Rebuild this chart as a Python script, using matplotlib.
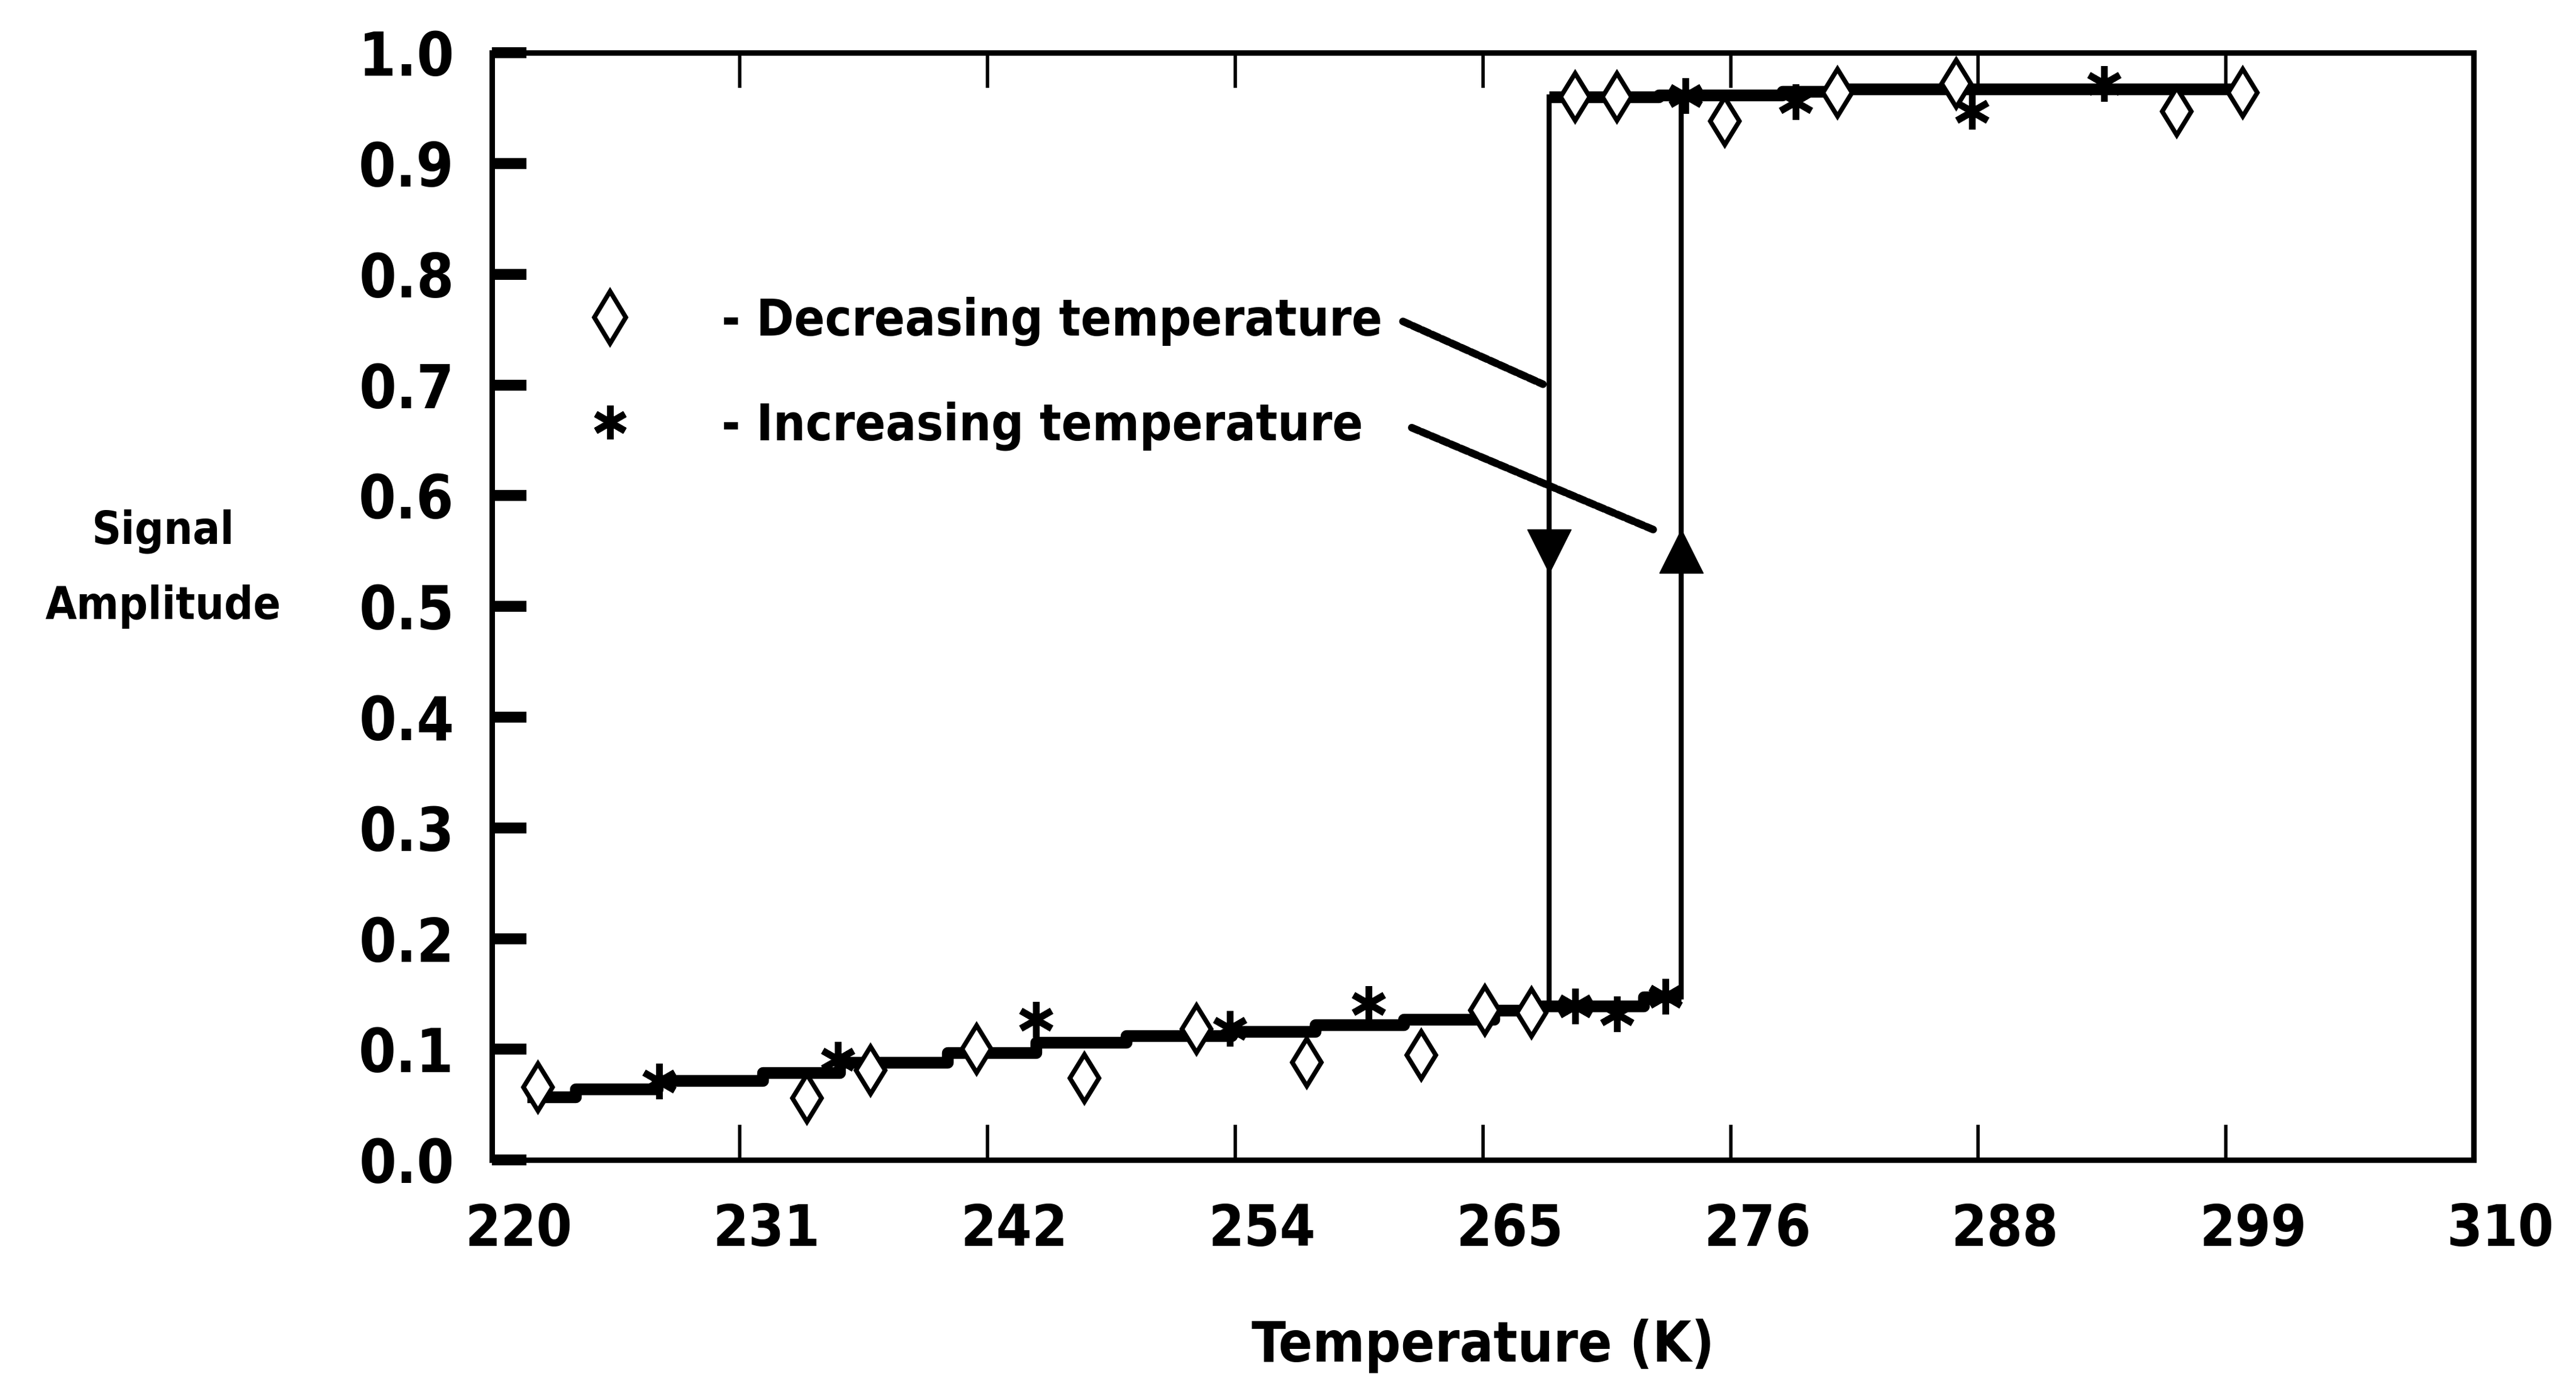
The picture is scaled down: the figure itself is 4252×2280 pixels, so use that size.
import os
from matplotlib import pyplot as plt
from matplotlib import font_manager
from matplotlib.lines import Line2D
from matplotlib.transforms import ScaledTranslation

# decreasing temperature runs (open diamonds)
dec_temp = [222.1, 234.3, 237.2, 242.0, 246.9, 252.0, 257.0, 262.2, 265.1, 267.2,
            269.2, 271.1, 276.0, 281.1, 286.5, 296.5, 299.5]
dec_amp = [0.066, 0.056, 0.081, 0.100, 0.074, 0.118, 0.088, 0.095, 0.135, 0.133,
           0.960, 0.960, 0.938, 0.964, 0.972, 0.947, 0.964]

# increasing temperature runs (asterisks)
inc_temp = [227.6, 235.7, 244.7, 253.5, 259.8, 269.2, 271.1, 273.3,
            274.2, 279.2, 287.2, 293.2]
inc_amp = [0.071, 0.091, 0.127, 0.119, 0.141, 0.139, 0.132, 0.148,
           0.961, 0.956, 0.947, 0.972]

# stepped curves drawn through the points
low_temp = [221.6, 223.8, 227.5, 232.3, 235.8, 240.7, 244.7, 248.8, 253.6,
            257.4, 261.4, 265.5, 267.7, 272.3, 274.0]
low_amp = [0.057, 0.064, 0.072, 0.079, 0.088, 0.097, 0.106, 0.112, 0.116,
           0.122, 0.127, 0.135, 0.139, 0.147, 0.147]
high_temp = [268.0, 273.0, 278.6, 281.5, 287.7, 300.0]
high_amp = [0.960, 0.962, 0.965, 0.967, 0.967, 0.967]

# transitions: cooling drop and heating jump
t_cool = 268.0
t_heat = 274.0
arrow_amp = 0.55

x_ticks = [220, 231.25, 242.5, 253.75, 265, 276.25, 287.5, 298.75, 310]
x_labels = ["220", "231", "242", "254", "265", "276", "288", "299", "310"]
y_ticks = [0.0, 0.1, 0.2, 0.3, 0.4, 0.5, 0.6, 0.7, 0.8, 0.9, 1.0]
y_labels = ["0.0", "0.1", "0.2", "0.3", "0.4", "0.5", "0.6", "0.7", "0.8", "0.9", "1.0"]


def pick_font():
    """Look for a narrow bold face, the printout uses a tall condensed font."""
    wanted = [("DejaVuSansCondensed-Bold", 0.79), ("LiberationSansNarrow-Bold", 1.0),
              ("NotoSans-CondensedBold", 0.92), ("RobotoCondensed-Bold", 0.92)]
    files = [f.fname for f in font_manager.fontManager.ttflist]
    for name, scale in wanted:
        for path in files:
            if os.path.splitext(os.path.basename(path))[0] == name:
                return path, scale
    return None, 0.71


font_path, scale = pick_font()


def fp(size):
    if font_path:
        return font_manager.FontProperties(fname=font_path, size=size * scale)
    return font_manager.FontProperties(family="DejaVu Sans", weight="bold", size=size * scale)


fig = plt.figure(figsize=(42.52, 22.8), dpi=100)
ax = fig.add_axes([0.191, 0.160, 0.7693, 0.8018])

# curves
ax.plot(low_temp, low_amp, drawstyle="steps-post", color="black", lw=14, solid_capstyle="butt")
ax.plot(high_temp, high_amp, drawstyle="steps-post", color="black", lw=14, solid_capstyle="butt")
ax.plot([t_cool, t_cool], [high_amp[0], low_amp[12]], color="black", lw=6)
ax.plot([t_heat, t_heat], [low_amp[-1], high_amp[1]], color="black", lw=6)
ax.plot([t_cool], [arrow_amp], marker="v", ms=52, color="black", ls="none")
ax.plot([t_heat], [arrow_amp], marker="^", ms=52, color="black", ls="none")

# data points
ax.plot(dec_temp, dec_amp, ls="none", marker="d", ms=40, mfc="white", mec="black", mew=5.5)
ax.plot(inc_temp, inc_amp, ls="none", marker=(6, 2, 0), ms=42, mec="black", mew=8)

# leader lines from the key to the arrows
ax.annotate("", xy=(267.8, 0.700), xytext=(261.3, 0.758),
            arrowprops=dict(arrowstyle="-", lw=9, linestyle=(0, (1.0, 0.4)), color="black"))
ax.annotate("", xy=(272.9, 0.568), xytext=(261.7, 0.662),
            arrowprops=dict(arrowstyle="-", lw=9, linestyle=(0, (1.0, 0.4)), color="black"))

handles = [Line2D([], [], ls="none", marker="d", ms=44, mfc="white", mec="black", mew=5.5),
           Line2D([], [], ls="none", marker=(6, 2, 0), ms=40, mec="black", mew=8)]
ax.legend(handles, ["- Decreasing temperature", "- Increasing temperature"],
          loc="upper left", bbox_to_anchor=(0.052, 0.78), frameon=False,
          handlelength=0.6, handletextpad=1.9, labelspacing=1.1,
          borderpad=0, borderaxespad=0, prop=fp(76))

ax.set_xlim(220, 310)
ax.set_ylim(0, 1.0)
ax.set_xticks(x_ticks)
ax.set_xticklabels(x_labels)
ax.set_yticks(y_ticks)
ax.set_yticklabels(y_labels)
for s in ax.spines.values():
    s.set_linewidth(6.5)
ax.tick_params(axis="y", direction="in", length=41, width=13, pad=45)
ax.tick_params(axis="x", direction="in", length=42, width=4, pad=50, top=True)
for lbl in ax.get_yticklabels():
    lbl.set_fontproperties(fp(90))
for lbl in ax.get_xticklabels():
    lbl.set_fontproperties(fp(86))
    lbl.set_transform(lbl.get_transform() + ScaledTranslation(0.44, 0, fig.dpi_scale_trans))

ax.set_xlabel("Temperature (K)", fontproperties=fp(84), labelpad=72)
ax.set_ylabel("Signal\nAmplitude", fontproperties=fp(68), rotation=0,
              ha="center", va="center", linespacing=1.9)
ax.yaxis.set_label_coords(-0.166, 0.534)

fig.savefig("out.png", dpi=100)
